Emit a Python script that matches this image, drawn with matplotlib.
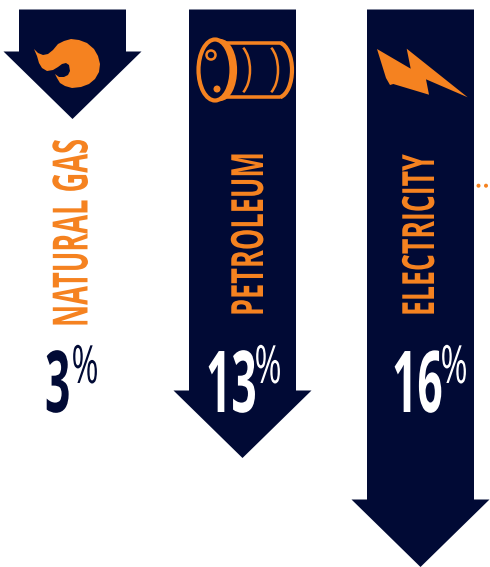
import matplotlib
matplotlib.use('Agg')
import matplotlib.pyplot as plt
from matplotlib.patches import Polygon, Ellipse, Arc, Circle
from matplotlib.patheffects import AbstractPathEffect
from matplotlib.text import Text
from matplotlib.transforms import Affine2D, Bbox

# values
categories = ['NATURAL GAS', 'PETROLEUM', 'ELECTRICITY']
percents = [3, 13, 16]
arrow_tip_y = [119, 458, 567]

NAVY = '#010A35'
ORANGE = '#F58220'
FONT = 'Open Sans'

# layout, in pixels of the 490x567 picture
shaft_left = [19, 189, 367]
TOP = 9.5
SHAFT_W = 107
WING = 15.5
HEAD_H = 67.5


class Squeeze(AbstractPathEffect):
    # real text, only narrower (the original face is a condensed one)
    def __init__(self, sx):
        super().__init__()
        self.sx = sx

    def draw_path(self, renderer, gc, tpath, affine, rgbFace=None):
        renderer.draw_path(gc, tpath, Affine2D().scale(self.sx, 1) + affine, rgbFace)


class NarrowText(Text):
    # reports the box of the squeezed text, not of the full width one
    sx = 1

    def get_window_extent(self, renderer=None, dpi=None):
        b = super().get_window_extent(renderer, dpi)
        if self.get_rotation() == 90:
            return Bbox.from_extents(b.x0, b.y0, b.x1, b.y0 + b.height * self.sx)
        return Bbox.from_extents(b.x0, b.y0, b.x0 + b.width * self.sx, b.y1)


def narrow_text(ax, x, y, s, size, color, sx, rotation=0, weight='normal'):
    t = NarrowText(x, y, s, fontsize=size, color=color, family=FONT, weight=weight,
                   rotation=rotation, rotation_mode='anchor', ha='left', va='baseline',
                   path_effects=[Squeeze(sx)])
    t.sx = sx
    ax.add_artist(t)


def arrow(ax, left, tip):
    right = left + SHAFT_W
    mid = left + SHAFT_W / 2
    wing_y = tip - HEAD_H
    pts = [(left, TOP), (right, TOP), (right, wing_y), (right + WING, wing_y),
           (mid, tip), (left - WING, wing_y), (left, wing_y)]
    ax.add_patch(Polygon(pts, closed=True, fc=NAVY, ec='none'))


fig = plt.figure(figsize=(4.9, 5.67), dpi=100)
ax = fig.add_axes([0, 0, 1, 1])
ax.set_xlim(0, 490)
ax.set_ylim(567, 0)
ax.axis('off')

for left, tip in zip(shaft_left, arrow_tip_y):
    arrow(ax, left, tip)

# flame icon
flame = [(34, 49), (38, 53), (43, 55), (48, 54), (53, 50), (58, 44), (64, 41), (71, 39),
         (79, 40), (87, 43), (94, 49), (98, 56), (100, 64), (99, 72), (95, 79), (89, 84),
         (81, 87), (72, 88), (65, 86), (60, 83), (57, 78), (55, 74), (59, 77), (64, 77),
         (68, 75), (70, 71), (69, 65), (66, 63), (62, 64), (58, 67), (53, 70), (47, 71),
         (42, 68), (39, 63), (37, 56)]
ax.add_patch(Polygon(flame, closed=True, fc=ORANGE, ec='none'))

# barrel icon
LW = 3.0
ax.add_patch(Ellipse((215, 70), 33, 61, fc='none', ec=ORANGE, lw=LW))
ax.add_patch(Arc((220, 70), 30, 58, theta1=-90, theta2=90, ec=ORANGE, lw=LW))
ax.add_patch(Arc((236, 70), 28, 52, theta1=-72, theta2=72, ec=ORANGE, lw=LW * 0.6))
ax.add_patch(Arc((264, 70), 28, 52, theta1=-72, theta2=72, ec=ORANGE, lw=LW * 0.6))
ax.add_patch(Arc((278, 70), 28, 55, theta1=-85, theta2=85, ec=ORANGE, lw=LW))
ax.plot([226, 280], [43, 43], color=ORANGE, lw=LW * 0.85, solid_capstyle='round')
ax.plot([226, 280], [97, 97], color=ORANGE, lw=LW * 0.85, solid_capstyle='round')
ax.add_patch(Circle((211, 55), 4.5, fc='none', ec=ORANGE, lw=1.8))
ax.add_patch(Circle((217, 89), 3.5, fc=ORANGE, ec='none'))

# bolt icon
bolt = [(377, 49), (410.7, 68.7), (406.7, 48.7), (467.7, 97.3), (426, 79.3),
        (429, 94.7), (393.3, 84), (390, 85), (386, 78)]
ax.add_patch(Polygon(bolt, closed=True, fc=ORANGE, ec='none'))

# the two stray dots on the right edge
ax.add_patch(Circle((478.5, 185.7), 2, fc=ORANGE, ec='none'))
ax.add_patch(Circle((486, 185.7), 2, fc=ORANGE, ec='none'))

# rotated labels
narrow_text(ax, 87.5, 327, categories[0], 35, ORANGE, 0.56, rotation=90, weight='bold')
narrow_text(ax, 263, 316, categories[1], 32, ORANGE, 0.61, rotation=90, weight='bold')
narrow_text(ax, 434, 316, categories[2], 32, ORANGE, 0.60, rotation=90, weight='bold')

# percentages
narrow_text(ax, 45, 412, str(percents[0]), 61.5, NAVY, 0.52, weight='bold')
narrow_text(ax, 71.5, 383, '%', 38, NAVY, 0.62)
narrow_text(ax, 206, 412, str(percents[1]), 61.5, 'white', 0.52, weight='bold')
narrow_text(ax, 254.5, 383, '%', 38, 'white', 0.62)
narrow_text(ax, 392, 412, str(percents[2]), 61.5, 'white', 0.52, weight='bold')
narrow_text(ax, 440.5, 383, '%', 38, 'white', 0.62)

fig.savefig('out.png', dpi=100)
